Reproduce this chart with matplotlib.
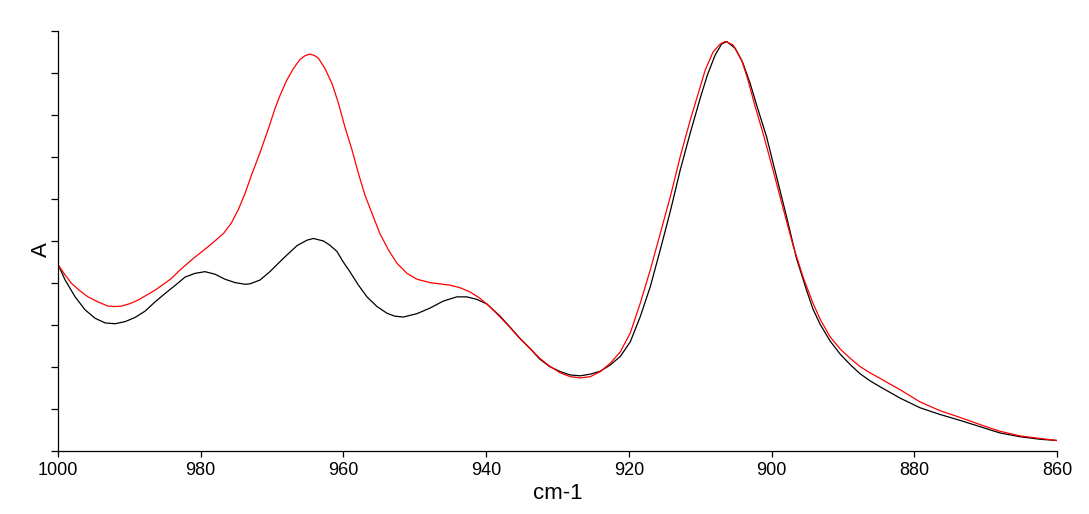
import numpy as np
import matplotlib.pyplot as plt

plt.rcParams["font.family"] = ["Liberation Sans", "DejaVu Sans"]

# espectro de referencia (negro)
wn_black = [999.9, 999.0, 997.6, 996.2, 994.8, 993.4, 992.0, 990.6, 989.2, 987.8,
            986.4, 985.0, 983.6, 982.2, 980.8, 979.4, 978.0, 976.6, 975.2, 973.8,
            973.1, 971.7, 970.3, 968.4, 966.5, 965.1, 964.2, 962.8, 961.9, 960.9,
            960.1, 959.1, 957.9, 956.7, 955.3, 953.9, 952.8, 951.6, 949.7, 947.9,
            946.0, 944.1, 942.7, 941.3, 939.9, 938.1, 936.7, 935.3, 933.9, 932.5,
            931.1, 929.6, 928.2, 926.8, 925.4, 924.0, 922.6, 921.2, 919.8, 918.4,
            917.0, 915.6, 914.2, 912.8, 911.4, 910.0, 909.0, 907.9, 907.0, 906.3,
            905.1, 904.0, 903.0, 902.1, 900.7, 899.3, 897.9, 896.5, 895.1, 894.2,
            893.2, 891.8, 890.4, 889.0, 887.6, 886.2, 884.8, 882.0, 879.2, 876.4,
            873.6, 870.8, 868.0, 865.2, 862.4, 860.0]
abs_black = [0.441, 0.407, 0.367, 0.336, 0.316, 0.305, 0.303, 0.308, 0.318, 0.333,
             0.355, 0.375, 0.394, 0.414, 0.423, 0.427, 0.421, 0.409, 0.401, 0.397,
             0.398, 0.407, 0.427, 0.459, 0.489, 0.502, 0.506, 0.500, 0.490, 0.475,
             0.452, 0.427, 0.395, 0.367, 0.344, 0.328, 0.321, 0.319, 0.327, 0.340,
             0.357, 0.367, 0.367, 0.361, 0.350, 0.322, 0.296, 0.269, 0.245, 0.219,
             0.201, 0.189, 0.181, 0.179, 0.183, 0.190, 0.205, 0.225, 0.260, 0.320,
             0.391, 0.479, 0.570, 0.669, 0.757, 0.840, 0.895, 0.943, 0.969, 0.975,
             0.959, 0.923, 0.875, 0.824, 0.748, 0.653, 0.558, 0.458, 0.383, 0.338,
             0.302, 0.262, 0.231, 0.206, 0.184, 0.167, 0.153, 0.126, 0.103, 0.087,
             0.073, 0.058, 0.043, 0.034, 0.028, 0.025]

# espectro de muestra (rojo)
wn_red = [999.9, 999.0, 998.1, 996.9, 995.8, 994.4, 993.0, 992.0, 991.1, 989.9,
          988.7, 987.7, 986.4, 985.3, 984.1, 982.9, 981.0, 978.7, 976.8, 975.7,
          974.7, 973.8, 972.9, 971.7, 970.5, 969.6, 968.9, 968.0, 967.0, 966.1,
          965.4, 964.7, 964.1, 963.5, 962.6, 961.6, 960.7, 959.8, 958.8, 957.9,
          957.0, 956.0, 954.9, 953.7, 952.5, 951.1, 949.7, 947.9, 946.5, 945.1,
          943.7, 942.3, 940.9, 939.5, 938.1, 936.7, 935.3, 933.9, 932.5, 931.1,
          929.6, 928.2, 926.8, 925.4, 924.0, 922.6, 921.2, 919.8, 918.4, 917.0,
          915.6, 914.2, 912.8, 911.4, 910.0, 909.3, 908.2, 907.2, 906.5, 905.4,
          904.2, 903.3, 902.3, 901.2, 899.8, 898.4, 897.0, 895.6, 894.2, 893.2,
          891.8, 890.4, 889.0, 887.6, 886.2, 884.8, 882.0, 879.2, 876.4, 873.6,
          870.8, 868.0, 865.2, 862.4, 860.0]
abs_red = [0.441, 0.419, 0.399, 0.381, 0.367, 0.355, 0.345, 0.344, 0.345, 0.351,
           0.360, 0.370, 0.383, 0.396, 0.411, 0.431, 0.459, 0.490, 0.518, 0.543,
           0.576, 0.613, 0.656, 0.710, 0.768, 0.815, 0.846, 0.881, 0.911, 0.932,
           0.941, 0.945, 0.942, 0.935, 0.911, 0.875, 0.828, 0.772, 0.717, 0.661,
           0.610, 0.566, 0.518, 0.479, 0.447, 0.423, 0.409, 0.401, 0.398, 0.395,
           0.389, 0.379, 0.364, 0.344, 0.320, 0.295, 0.268, 0.245, 0.221, 0.202,
           0.186, 0.177, 0.174, 0.177, 0.189, 0.209, 0.236, 0.281, 0.352, 0.431,
           0.518, 0.605, 0.701, 0.788, 0.867, 0.907, 0.950, 0.969, 0.975, 0.967,
           0.931, 0.883, 0.820, 0.757, 0.669, 0.579, 0.490, 0.415, 0.352, 0.314,
           0.272, 0.243, 0.221, 0.201, 0.186, 0.173, 0.146, 0.117, 0.096, 0.080,
           0.063, 0.047, 0.036, 0.030, 0.025]

x_ticks = [1000, 980, 960, 940, 920, 900, 880, 860]

fig = plt.figure(figsize=(10.89, 5.14), dpi=100)
ax = fig.add_axes([58 / 1089, 1 - 451 / 514, 999 / 1089, 420 / 514])

ax.plot(wn_black, abs_black, color="black", lw=0.9)
ax.plot(wn_red, abs_red, color="#ff0000", lw=0.9)

ax.set_xlim(1000, 860)
ax.set_ylim(0, 1)
ax.set_xticks(x_ticks)
ax.set_xticklabels([str(t) for t in x_ticks])
ax.set_yticks(np.linspace(0, 1, 11))
ax.set_yticklabels([])

for side in ("top", "right"):
    ax.spines[side].set_visible(False)
for side in ("left", "bottom"):
    ax.spines[side].set_linewidth(0.9)

ax.tick_params(axis="x", direction="out", length=4, width=0.9, labelsize=13, pad=4)
ax.tick_params(axis="y", direction="out", length=5, width=0.9)

ax.set_xlabel("cm-1", fontsize=16, labelpad=3)
ax.set_ylabel("A", fontsize=16)
ax.yaxis.set_label_coords(-0.006, 0.48)

fig.savefig("out.png", dpi=100)
